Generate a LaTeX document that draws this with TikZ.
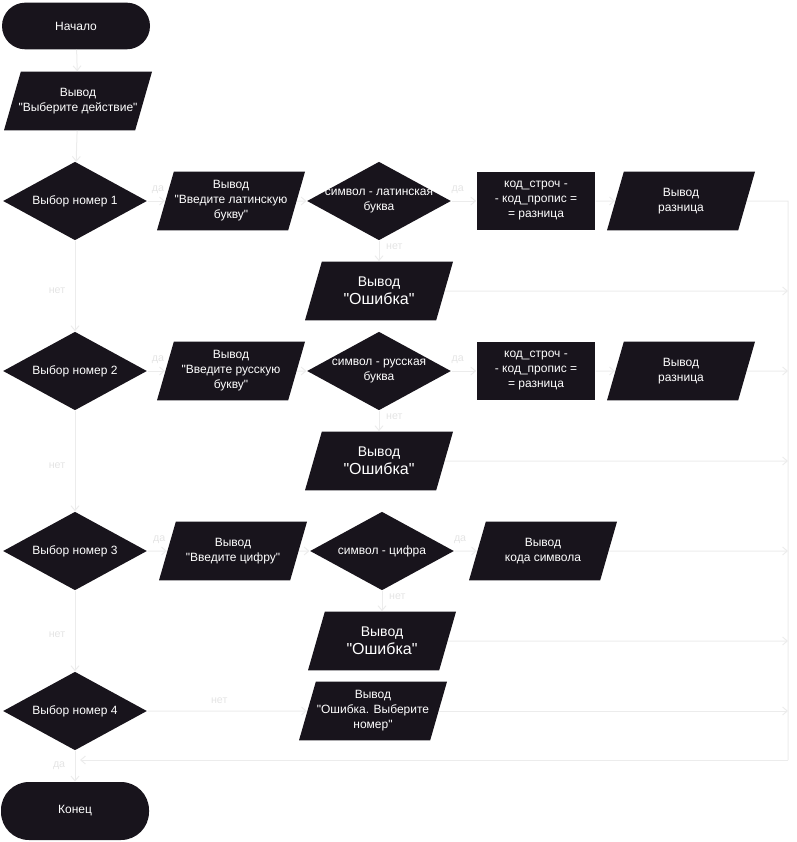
\documentclass[tikz,border=0pt]{standalone}
\usepackage{fontspec}
\setmainfont{Liberation Sans}[Ligatures=TeXOff]
\usetikzlibrary{shapes.geometric,arrows.meta}

\definecolor{boxfill}{RGB}{24,20,28}
\definecolor{linegrey}{RGB}{236,236,236}
\definecolor{yngrey}{RGB}{228,228,228}

\tikzset{every picture/.style={line width=0.75pt},
  term/.style={rectangle,fill=boxfill,minimum width=111pt,inner sep=0pt},
  io/.style={trapezium,trapezium left angle=74,trapezium right angle=106,trapezium stretches body,
    fill=boxfill,minimum width=111pt,inner sep=0pt,execute at begin node={\rule{0pt}{44pt}}},
  cond/.style={diamond,fill=boxfill,minimum width=108pt,minimum height=59pt,inner sep=0pt},
  proc/.style={rectangle,fill=boxfill,minimum width=89pt,minimum height=44pt,inner sep=0pt},
  txt/.style={text=white,font=\fontsize{9}{11.25}\selectfont,align=center},
  bigtxt/.style={text=white,font=\fontsize{10.5}{13.5}\selectfont,align=center},
  flow/.style={draw=linegrey,-{Straight Barb[length=3.5pt,width=6pt]}},
  yn/.style={text=yngrey,font=\fontsize{8}{9}\selectfont,inner sep=1pt}
}

\begin{document}
\begin{tikzpicture}[x=0.75pt,y=0.75pt,yscale=-1,xscale=1]
\useasboundingbox (0,0) rectangle (796,842);

% start and first output
\node[term,minimum height=35pt,rounded corners=17.5pt,label={[txt]center:Начало}] (start) at (76,26) {};
\node[io,label={[txt]center:{Вывод\\"Выберите действие"}}] (outSel) at (78,101) {};

% choice diamonds
\node[cond,label={[txt]center:Выбор номер 1}] (sel1) at (75,201) {};
\node[cond,label={[txt]center:Выбор номер 2}] (sel2) at (75,371) {};
\node[cond,label={[txt]center:Выбор номер 3}] (sel3) at (75,551) {};
\node[cond,label={[txt]center:Выбор номер 4}] (sel4) at (75,711) {};

% row 1
\node[io,label={[txt]center:{Вывод\\"Введите латинскую\\букву"}}] (askLat) at (231,201) {};
\node[cond,label={[txt]center:{символ - латинская\\буква}}] (isLat) at (379,201) {};
\node[proc,label={[txt]center:{код\_строч -\\- код\_пропис =\\= разница}}] (diffLat) at (536,201) {};
\node[io,label={[txt]center:{Вывод\\разница}}] (showLat) at (681,201) {};
\node[io,label={[bigtxt]center:{Вывод\\{\fontsize{12}{13}\selectfont"Ошибка"}}}] (errLat) at (379,291) {};

% row 2
\node[io,label={[txt]center:{Вывод\\"Введите русскую\\букву"}}] (askRus) at (231,371) {};
\node[cond,label={[txt]center:{символ - русская\\буква}}] (isRus) at (379,371) {};
\node[proc,label={[txt]center:{код\_строч -\\- код\_пропис =\\= разница}}] (diffRus) at (536,371) {};
\node[io,label={[txt]center:{Вывод\\разница}}] (showRus) at (681,371) {};
\node[io,label={[bigtxt]center:{Вывод\\{\fontsize{12}{13}\selectfont"Ошибка"}}}] (errRus) at (379,461) {};

% row 3
\node[io,label={[txt]center:{Вывод\\"Введите цифру"}}] (askDig) at (233,551) {};
\node[cond,label={[txt]center:символ - цифра}] (isDig) at (382,551) {};
\node[io,label={[txt]center:{Вывод\\кода символа}}] (showCode) at (543,551) {};
\node[io,label={[bigtxt]center:{Вывод\\{\fontsize{12}{13}\selectfont"Ошибка"}}}] (errDig) at (382,641) {};

% row 4 and end
\node[io,label={[txt]center:{Вывод\\"Ошибка. Выберите\\номер"}}] (errNum) at (373,711) {};
\node[term,minimum height=43.5pt,rounded corners=21pt,label={[txt]center:Конец}] (finish) at (75,811) {};

% collecting line on the right
\coordinate (cTop) at (788,201);
\coordinate (cBot) at (788,760);
\coordinate (cEnd) at (80,760);

% main column
\draw[flow] (start) -- (outSel);
\draw[flow] (outSel) -- (sel1);
\draw[flow] (sel1) -- node[yn,left=6pt,pos=0.55] {нет} (sel2);
\draw[flow] (sel2) -- node[yn,left=6pt,pos=0.55] {нет} (sel3);
\draw[flow] (sel3) -- node[yn,left=6pt,pos=0.55] {нет} (sel4);
\draw[flow] (sel4) -- node[yn,left=6pt] {да} (finish);
\draw[flow] (sel4) -- node[yn,above=4pt,pos=0.45] {нет} (errNum);

% row 1
\draw[flow] (sel1) -- node[yn,above=4pt,pos=0.6] {да} (askLat);
\draw[flow] (askLat) -- (isLat);
\draw[flow] (isLat) -- node[yn,above=4pt,pos=0.25] {да} (diffLat);
\draw[flow] (diffLat) -- (showLat);
\draw[flow] (isLat) -- node[yn,right=4pt,pos=0.3] {нет} (errLat);

% row 2
\draw[flow] (sel2) -- node[yn,above=4pt,pos=0.6] {да} (askRus);
\draw[flow] (askRus) -- (isRus);
\draw[flow] (isRus) -- node[yn,above=4pt,pos=0.25] {да} (diffRus);
\draw[flow] (diffRus) -- (showRus);
\draw[flow] (isRus) -- node[yn,right=4pt,pos=0.3] {нет} (errRus);

% row 3
\draw[flow] (sel3) -- node[yn,above=4pt,pos=0.6] {да} (askDig);
\draw[flow] (askDig) -- (isDig);
\draw[flow] (isDig) -- node[yn,above=4pt,pos=0.25] {да} (showCode);
\draw[flow] (isDig) -- node[yn,right=4pt,pos=0.3] {нет} (errDig);

% everything runs into the right line
\draw[draw=linegrey] (showLat) -- (cTop) -- (cBot);
\draw[flow] (cBot) -- (cEnd);
\draw[flow] (errLat) -- (errLat -| cTop);
\draw[flow] (showRus) -- (showRus -| cTop);
\draw[flow] (errRus) -- (errRus -| cTop);
\draw[flow] (showCode) -- (showCode -| cTop);
\draw[flow] (errDig) -- (errDig -| cTop);
\draw[flow] (errNum) -- (errNum -| cTop);

\end{tikzpicture}
\end{document}
